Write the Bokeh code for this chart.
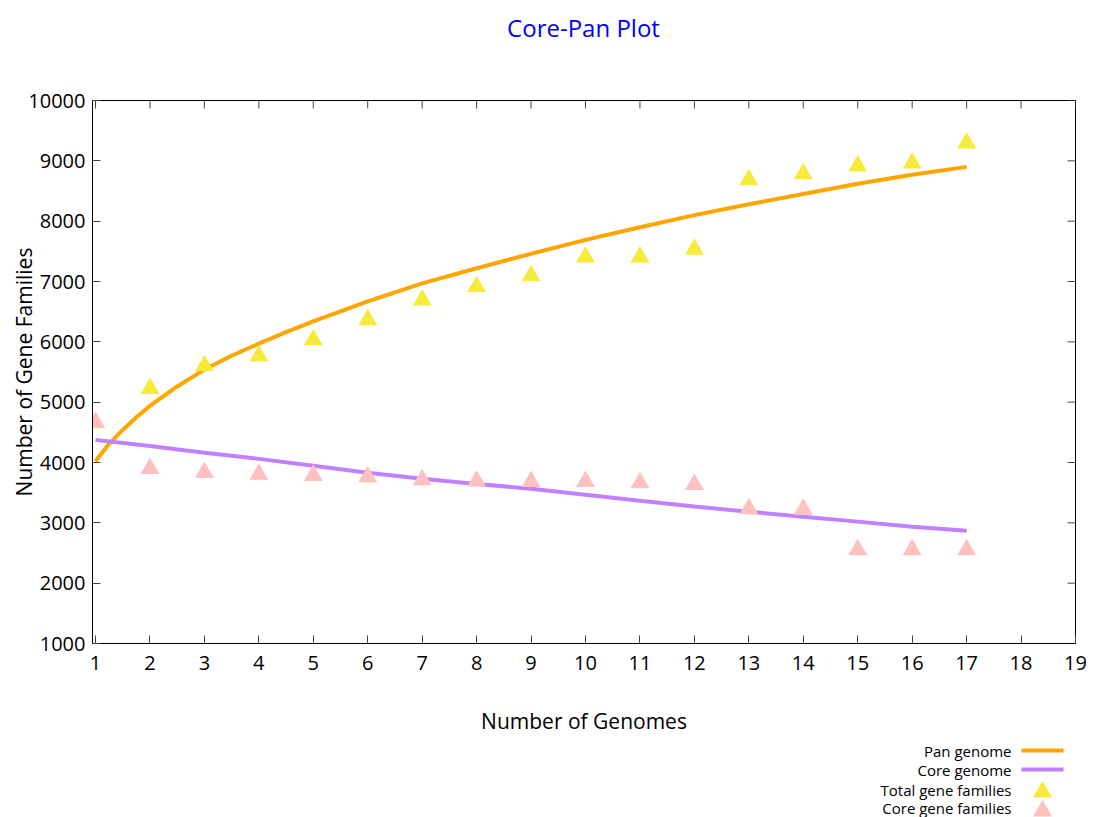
from bokeh.plotting import figure
from bokeh.models import FixedTicker, Range1d
from bokeh.layouts import column
from bokeh.embed import file_html
from bokeh.resources import INLINE
from bokeh.core.properties import value

# ---------------- data ----------------
genomes = list(range(1, 18))
total_gene_families = [4660, 5225, 5605, 5765, 6035, 6365, 6695, 6915, 7095,
                       7405, 7405, 7535, 8685, 8785, 8915, 8965, 9295]
core_gene_families = [4665, 3900, 3835, 3805, 3785, 3765, 3715, 3695, 3685,
                      3685, 3665, 3635, 3235, 3225, 2555, 2555, 2555]

pan_x = [1, 1.25, 1.5, 1.75, 2, 2.5, 3, 3.5, 4, 4.5, 5, 6, 7, 8, 9, 10,
         11, 12, 13, 14, 15, 16, 17]
pan_y = [4020, 4310, 4540, 4750, 4940, 5260, 5540, 5770, 5970, 6160, 6340,
         6670, 6970, 7220, 7460, 7690, 7900, 8100, 8280, 8450, 8620, 8770, 8900]

core_x = list(range(1, 18))
core_y = [4375, 4275, 4160, 4060, 3945, 3830, 3730, 3645, 3565, 3465, 3365,
          3270, 3185, 3100, 3020, 2935, 2870]

x_ticks = list(range(1, 20))
y_ticks = list(range(1000, 10001, 1000))

title_text = "Core-Pan Plot"
legend_labels = ["Pan genome", "Core genome", "Total gene families", "Core gene families"]

# ---------------- style ----------------
FONT = "Open Sans"
PAN_COLOR = "#FFA500"
CORE_COLOR = "#C080FF"
TOTAL_COLOR = "#F7EA3A"
COREFAM_COLOR = "#FFC0C0"
W = 1101
FRAME_L = 92
FRAME_R = 1075


def strip(height):
    # strips share the main plot's frame alignment inside the column layout,
    # so map their x range onto the frame's pixel span
    f = figure(width=W, height=height, x_range=Range1d(FRAME_L, FRAME_R),
               y_range=Range1d(height, 0),
               output_backend="svg", toolbar_location=None,
               x_axis_location=None, y_axis_location=None,
               min_border_left=FRAME_L, min_border_right=W - FRAME_R,
               min_border_top=0, min_border_bottom=0,
               background_fill_color="white", border_fill_color="white")
    f.grid.visible = False
    f.outline_line_color = None
    return f


# ---------------- title strip ----------------
TITLE_H = 50
t = strip(TITLE_H)
t.text(x=[583], y=[27], text=[title_text], text_align="center", text_baseline="middle",
       text_font=value(FONT), text_font_size="24px", text_color="#0000FF")

# ---------------- main plot ----------------
MAIN_H = 690
p = figure(width=W, height=MAIN_H,
           x_range=Range1d(0.945, 19), y_range=Range1d(1000, 10000),
           output_backend="svg", toolbar_location=None,
           min_border_left=FRAME_L, min_border_right=W - FRAME_R,
           min_border_top=100 - TITLE_H, min_border_bottom=MAIN_H + TITLE_H - 643,
           background_fill_color="white", border_fill_color="white")

p.grid.visible = False
p.outline_line_color = "#000000"
p.outline_line_width = 1
p.outline_line_alpha = 1

p.xaxis.ticker = FixedTicker(ticks=x_ticks)
p.yaxis.ticker = FixedTicker(ticks=y_ticks)
for ax in (p.xaxis[0], p.yaxis[0]):
    ax.major_tick_in = 8
    ax.major_tick_out = 0
    ax.minor_tick_line_color = None
    ax.major_tick_line_color = "#444444"
    ax.axis_line_color = "#000000"
    ax.major_label_text_font = FONT
    ax.major_label_text_font_size = "20px"
    ax.major_label_text_color = "#000000"
    ax.axis_label_text_font = FONT
    ax.axis_label_text_font_size = "21px"
    ax.axis_label_text_font_style = "normal"
    ax.axis_label_text_color = "#000000"

p.xaxis.axis_label = "Number of Genomes"
p.xaxis.major_label_standoff = 12
p.xaxis.axis_label_standoff = 34
p.yaxis.axis_label = "Number of Gene Families"
p.yaxis.major_label_standoff = 7
p.yaxis.axis_label_standoff = -13

# mirrored ticks on top and right borders
tick_dy = 132
tick_dx = 0.147
p.segment(x0=x_ticks, y0=[10000] * len(x_ticks), x1=x_ticks,
          y1=[10000 - tick_dy] * len(x_ticks), line_color="#444444", line_width=1)
p.segment(x0=[19] * len(y_ticks), y0=y_ticks, x1=[19 - tick_dx] * len(y_ticks),
          y1=y_ticks, line_color="#444444", line_width=1)

p.line(pan_x, pan_y, line_color=PAN_COLOR, line_width=4)
p.line(core_x, core_y, line_color=CORE_COLOR, line_width=4)
p.scatter(genomes, total_gene_families, marker="triangle", size=19,
          fill_color=TOTAL_COLOR, line_color=None)
p.scatter(genomes, core_gene_families, marker="triangle", size=19,
          fill_color=COREFAM_COLOR, line_color=None)

# ---------------- legend strip ----------------
LEG_H = 817 - TITLE_H - MAIN_H
lg = strip(LEG_H)
top = TITLE_H + MAIN_H
row_y = [750 - top, 769 - top, 789 - top, 807 - top]
lg.text(x=[1011] * 4, y=row_y, text=legend_labels, text_align="right",
        text_baseline="middle", text_font=value(FONT), text_font_size="15px",
        text_color="#000000")
lg.segment(x0=[1021, 1021], y0=row_y[:2], x1=[1063, 1063], y1=row_y[:2],
           line_color=[PAN_COLOR, CORE_COLOR], line_width=4)
lg.scatter(x=[1042, 1042], y=[row_y[2] + 2.5, row_y[3] + 3.5], marker="triangle",
           size=19, fill_color=[TOTAL_COLOR, COREFAM_COLOR], line_color=None)

layout = column(t, p, lg, spacing=0)
open("out.html", "w").write(file_html(layout, INLINE))
